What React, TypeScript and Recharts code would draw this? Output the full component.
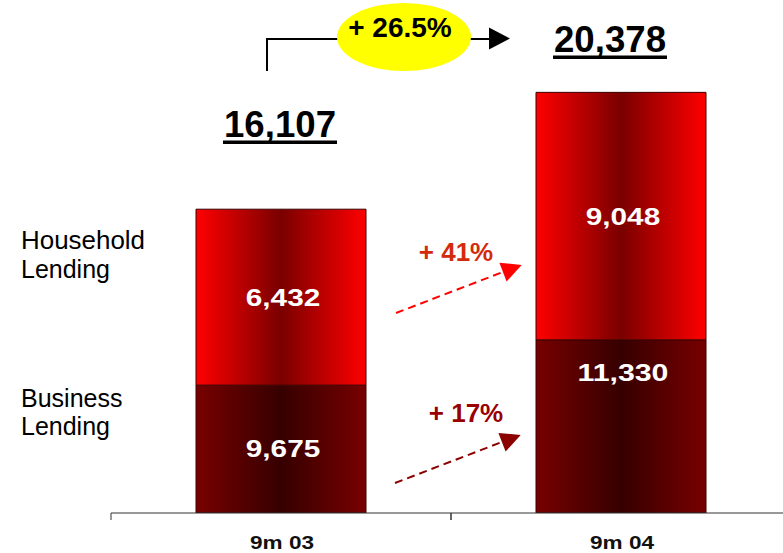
import React from "react";
import { BarChart, Bar, XAxis, YAxis, LabelList } from "recharts";

const periods = ["9m 03", "9m 04"];
const businessLending = [9675, 11330];
const householdLending = [6432, 9048];
const totals = [16107, 20378];
const totalGrowth = "+ 26.5%";
const householdGrowth = "+ 41%";
const businessGrowth = "+ 17%";

const data = periods.map((period, i) => ({
  period,
  business: businessLending[i],
  household: householdLending[i],
  total: totals[i],
}));

const FONT = '"Liberation Sans", Arial, sans-serif';
const fmt = (v: number) => v.toLocaleString("en-US");

// approx bold Arial advance, in em, for the number strings
const emWidth = (s: string) => s.split("").reduce((w, c) => w + (c === "," ? 0.278 : 0.556), 0);

const ValueLabel = (props: any) => {
  const { x, y, width, height, value, index, nudgeTop } = props;
  const cy = nudgeTop && index === 1 ? y + 33 : y + height / 2;
  const s = fmt(value);
  return (
    <text
      x={x + width / 2 + 2}
      y={cy}
      dy="0.35em"
      textAnchor="middle"
      fill="#fff"
      fontFamily={FONT}
      fontWeight="bold"
      fontSize={24}
      textLength={emWidth(s) * 24 * 1.24}
      lengthAdjust="spacingAndGlyphs"
    >
      {s}
    </text>
  );
};

// totals sit at different heights above each bar in the original slide
const totalLift = [72, 40];
const totalShift = [-1, -11];

const TotalLabel = (props: any) => {
  const { x, y, width, value, index } = props;
  const cx = x + width / 2 + totalShift[index];
  const base = y - totalLift[index];
  return (
    <g>
      <text
        x={cx}
        y={base}
        textAnchor="middle"
        fill="#000"
        fontFamily={FONT}
        fontWeight="bold"
        fontSize={37}
        textLength={112}
        lengthAdjust="spacingAndGlyphs"
      >
        {fmt(value)}
      </text>
      <line x1={cx - 57} x2={cx + 57} y1={base + 5} y2={base + 5} stroke="#000" strokeWidth={3.5} />
    </g>
  );
};

const PeriodTick = (props: any) => {
  const { x, y, payload } = props;
  const axisY = y - 8;
  return (
    <g>
      <line x1={x - 170} x2={x - 170} y1={axisY} y2={axisY + 7} stroke="#333" />
      <line x1={x + 170} x2={x + 170} y1={axisY} y2={axisY + 7} stroke="#333" />
      <text
        x={x + 1}
        y={axisY + 36}
        textAnchor="middle"
        fill="#111"
        fontFamily={FONT}
        fontWeight="bold"
        fontSize={18}
        textLength={64}
        lengthAdjust="spacingAndGlyphs"
      >
        {payload.value}
      </text>
    </g>
  );
};

export default function App() {
  return (
    <div style={{ position: "absolute", left: 0, top: 0, width: 783, height: 553, overflow: "hidden", background: "#fff" }}>
      <BarChart
        width={800}
        height={553}
        data={data}
        margin={{ top: 48, right: 9, bottom: 10, left: 111 }}
        barCategoryGap="25%"
      >
        <defs>
          <linearGradient id="hhGrad" x1="0" y1="0" x2="1" y2="0">
            <stop offset="0%" stopColor="#ff0000" />
            <stop offset="50%" stopColor="#7a0000" />
            <stop offset="100%" stopColor="#ff0000" />
          </linearGradient>
          <linearGradient id="bizGrad" x1="0" y1="0" x2="1" y2="0">
            <stop offset="0%" stopColor="#780000" />
            <stop offset="50%" stopColor="#360000" />
            <stop offset="100%" stopColor="#780000" />
          </linearGradient>
        </defs>
        <XAxis
          dataKey="period"
          height={30}
          axisLine={{ stroke: "#333" }}
          tickLine={false}
          tick={<PeriodTick />}
          interval={0}
        />
        <YAxis hide domain={[5000, 22000]} allowDataOverflow />
        <Bar dataKey="business" stackId="a" fill="url(#bizGrad)" stroke="#3a0000" strokeWidth={1} isAnimationActive={false}>
          <LabelList dataKey="business" content={<ValueLabel nudgeTop />} />
        </Bar>
        <Bar dataKey="household" stackId="a" fill="url(#hhGrad)" stroke="#3a0000" strokeWidth={1} isAnimationActive={false}>
          <LabelList dataKey="household" content={<ValueLabel />} />
          <LabelList dataKey="total" content={<TotalLabel />} />
        </Bar>
      </BarChart>

      <svg width={783} height={553} style={{ position: "absolute", left: 0, top: 0, pointerEvents: "none" }}>
        <g fontFamily={FONT} fill="#000">
          <text x={21} y={249} fontSize={25} textLength={124} lengthAdjust="spacingAndGlyphs">Household</text>
          <text x={21} y={278} fontSize={25}>Lending</text>
          <text x={21} y={407} fontSize={25}>Business</text>
          <text x={21} y={435} fontSize={25}>Lending</text>
        </g>

        <polyline points="267,71 267,39 340,39" fill="none" stroke="#000" strokeWidth={2} />
        <line x1={468} y1={39} x2={491} y2={39} stroke="#000" strokeWidth={2} />
        <polygon points="489,27.5 510,38.5 489,49.5" fill="#000" />
        <ellipse cx={404} cy={37} rx={67} ry={34} fill="#ffff00" />
        <text x={400} y={37} textAnchor="middle" fontFamily={FONT} fontWeight="bold" fontSize={28} fill="#000">
          {totalGrowth}
        </text>

        <text x={456} y={261} textAnchor="middle" fontFamily={FONT} fontWeight="bold" fontSize={26} fill="#d42a0c">
          {householdGrowth}
        </text>
        <line x1={396} y1={313} x2={503} y2={272} stroke="#ff0000" strokeWidth={2} strokeDasharray="8 5" />
        <polygon points="521.7,265 506.6,281.4 499.4,262.7" fill="#ff0000" />

        <text x={466} y={422} textAnchor="middle" fontFamily={FONT} fontWeight="bold" fontSize={26} fill="#990000">
          {businessGrowth}
        </text>
        <line x1={395} y1={483} x2={502} y2={442} stroke="#8b0000" strokeWidth={2} strokeDasharray="8 5" />
        <polygon points="520.7,435 505.6,451.5 498.4,432.9" fill="#8b0000" />
      </svg>
    </div>
  );
}
